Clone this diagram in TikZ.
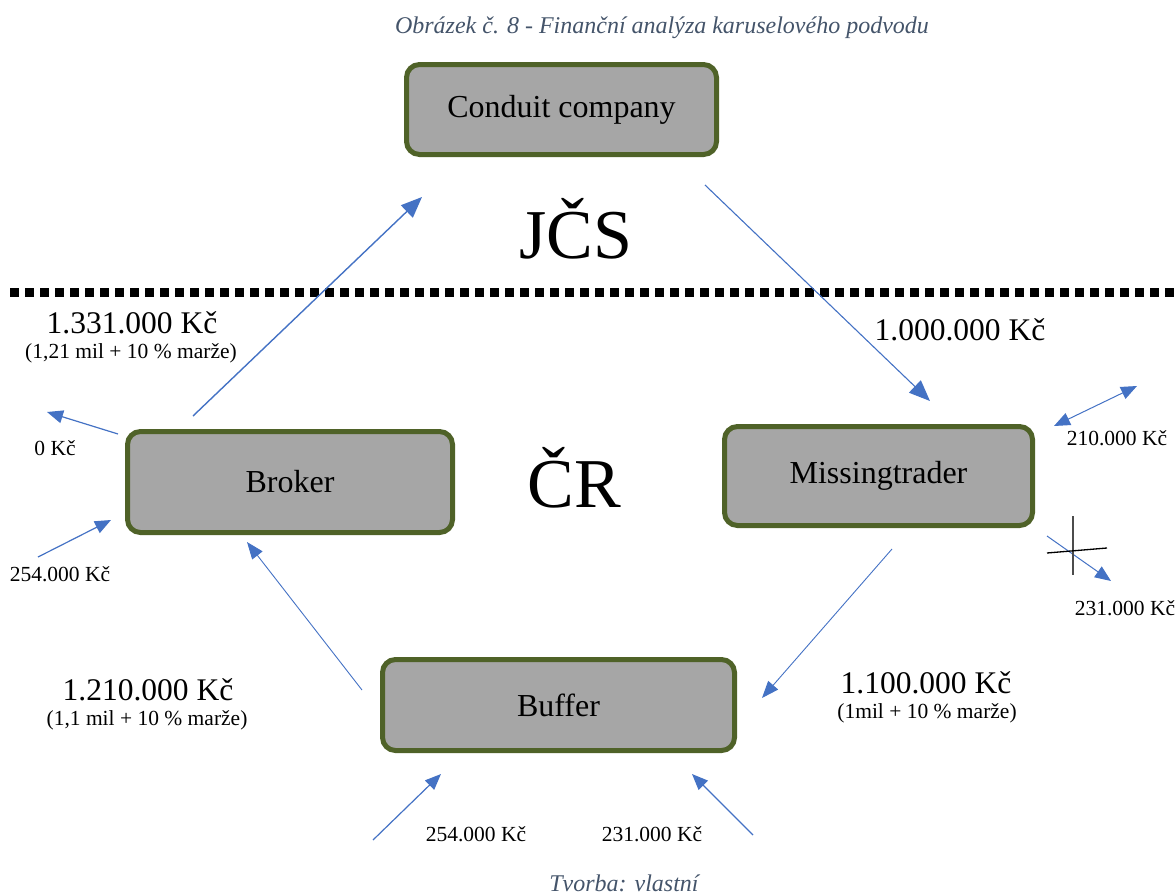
\documentclass[tikz,border=0pt]{standalone}
\usepackage{fontspec}
\setmainfont{Liberation Serif}
\usetikzlibrary{arrows.meta}
\definecolor{boxline}{HTML}{4F6228}
\definecolor{boxfill}{HTML}{A6A6A6}
\definecolor{flow}{HTML}{4472C4}
\definecolor{capcol}{HTML}{44546A}
\tikzset{
  entity/.style={draw=boxline, fill=boxfill, line width=5pt, rounded corners=13pt,
    font=\fontsize{32}{38}\selectfont, inner sep=0pt},
  flowarrow/.style={draw=flow, line width=1.4pt, -{Triangle[length=21pt,width=17pt]}},
  smallarrow/.style={draw=flow, line width=1.2pt, -{Triangle[length=16pt,width=13pt]}},
  bigamount/.style={font=\fontsize{31.5}{36}\selectfont, inner sep=0pt},
  note/.style={font=\fontsize{21.5}{25}\selectfont, inner sep=0pt},
  region/.style={font=\fontsize{70}{80}\selectfont, inner sep=0pt},
  caption/.style={font=\fontsize{24}{28}\selectfont\itshape, text=capcol, inner sep=0pt},
}
\begin{document}
\begin{tikzpicture}[x=1pt, y=-1pt]
\useasboundingbox (0,0) rectangle (1176,894);
% caption
\node[caption] (cap) at (662,28) {Obrázek č. 8 - Finanční analýza karuselového podvodu};
\node[caption] (src) at (624,883) {Tvorba: vlastní};
% border line
\coordinate (bl) at (10,292);
\coordinate (br) at (1176,292);
\draw[line width=9pt, dash pattern=on 9pt off 6pt] (bl) -- (br);
% boxes
\node[entity, minimum width=310pt, minimum height=90pt] (conduit) at (561.5,109.5) {Conduit company};
\node[entity, minimum width=325pt, minimum height=101pt] (broker) at (290,482) {Broker};
\node[entity, minimum width=308pt, minimum height=99pt] (missing) at (878.5,476) {\raisebox{-4pt}{Missingtrader}};
\node[entity, minimum width=352pt, minimum height=91pt] (buffer) at (558.5,705) {Buffer};
% region labels
\node[region] (jcs) at (576,229) {JČS};
\node[region] (cr) at (574,478) {ČR};
% amounts
\node[bigamount] (a1) at (132,323) {1.331.000 Kč};
\node[note] (a1n) at (131,353) {(1,21 mil + 10 \% marže)};
\node[bigamount] (a2) at (960,330) {1.000.000 Kč};
\node[bigamount] (a3) at (926,683) {1.100.000 Kč};
\node[note] (a3n) at (927,713) {(1mil + 10 \% marže)};
\node[bigamount] (a4) at (148,690) {1.210.000 Kč};
\node[note] (a4n) at (147,720) {(1,1 mil + 10 \% marže)};
\node[note] (n0) at (55,448) {0 Kč};
\node[note] (n1) at (60,574) {254.000 Kč};
\node[note] (n2) at (1117,438) {210.000 Kč};
\node[note] (n3) at (1125,608) {231.000 Kč};
\node[note] (n4) at (476,834) {254.000 Kč};
\node[note] (n5) at (652,834) {231.000 Kč};
% cycle arrows
\coordinate (bc1) at (193,416);
\coordinate (bc2) at (422,197);
\coordinate (cm1) at (705,185);
\coordinate (cm2) at (930,401);
\coordinate (mb1) at (892,549);
\coordinate (mb2) at (762,698);
\coordinate (bb1) at (362,690);
\coordinate (bb2) at (247,542);
\draw[flowarrow] (bc1) -- (bc2);
\draw[flowarrow, line width=1.1pt] (cm1) -- (cm2);
\draw[flowarrow, line width=0.9pt, -{Triangle[length=17pt,width=13pt]}] (mb1) -- (mb2);
\draw[flowarrow, line width=0.9pt, -{Triangle[length=17pt,width=13pt]}] (bb1) -- (bb2);
% side arrows
\coordinate (s0a) at (118,434);
\coordinate (s0b) at (47,412);
\draw[smallarrow] (s0a) -- (s0b);
\coordinate (s1a) at (38,557);
\coordinate (s1b) at (111,520);
\draw[smallarrow] (s1a) -- (s1b);
\coordinate (s2a) at (1054,426);
\coordinate (s2b) at (1137,386);
\draw[smallarrow, line width=1pt, {Triangle[length=16pt,width=13pt]}-{Triangle[length=16pt,width=13pt]}] (s2a) -- (s2b);
\coordinate (s3a) at (1047,536);
\coordinate (s3b) at (1111,581);
\draw[smallarrow, line width=1pt] (s3a) -- (s3b);
\coordinate (s4a) at (373,840);
\coordinate (s4b) at (441,774);
\draw[smallarrow] (s4a) -- (s4b);
\coordinate (s5a) at (753,835);
\coordinate (s5b) at (692,774);
\draw[smallarrow] (s5a) -- (s5b);
% cross mark
\coordinate (xv1) at (1073,516);
\coordinate (xv2) at (1073,575);
\coordinate (xh1) at (1047,553);
\coordinate (xh2) at (1107,548);
\draw[black!70, line width=1.2pt] (xv1) -- (xv2);
\draw[black, line width=1.3pt] (xh1) -- (xh2);
\end{tikzpicture}
\end{document}
